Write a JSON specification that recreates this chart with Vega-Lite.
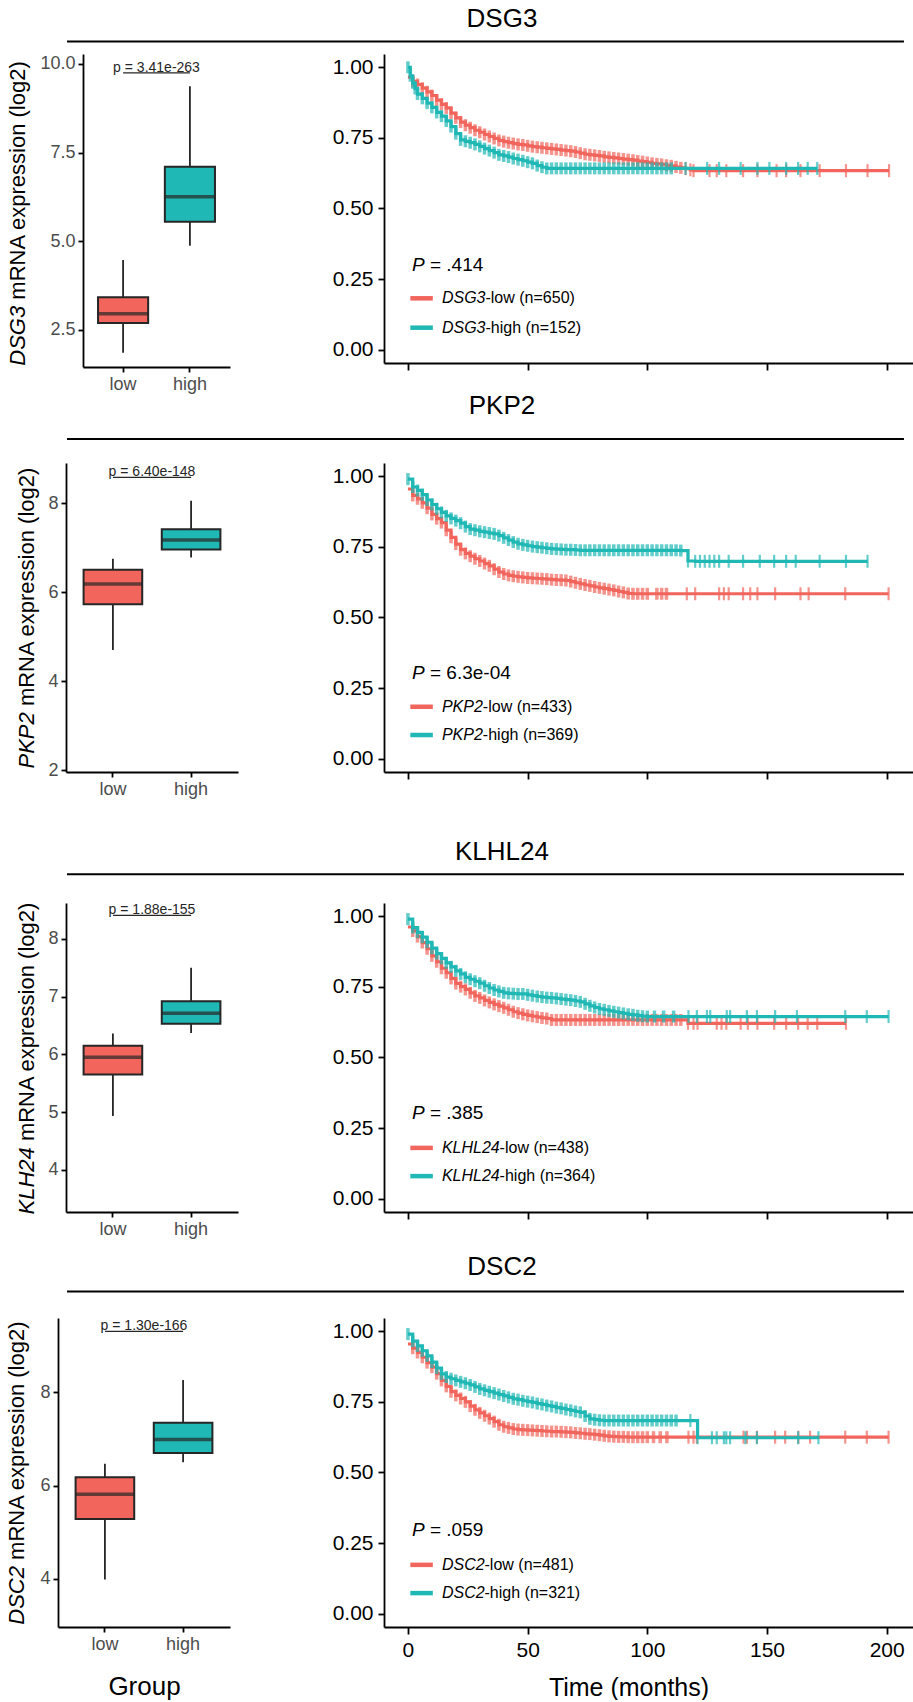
{
"$schema": "https://vega.github.io/schema/vega-lite/v6.json",
"padding": 0,
"background": "white",
"config": {
 "view": {"stroke": null},
 "font": "Liberation Sans",
 "axis": {"grid": false, "domainColor": "#000", "domainWidth": 1.8, "tickColor": "#000", "tickWidth": 1.8, "labelFont": "Liberation Sans", "titleFont": "Liberation Sans", "titleFontWeight": "normal", "labelColor": "#000", "titleColor": "#000", "labelFlush": false, "labelOverlap": false},
 "text": {"font": "Liberation Sans"}
},
"datasets": {
 "box": [
  {"k":"DSG3","g":"low","lo":1.85,"q1":2.69,"med":2.95,"q3":3.42,"hi":4.47},
  {"k":"DSG3","g":"high","lo":4.87,"q1":5.55,"med":6.25,"q3":7.1,"hi":9.37},
  {"k":"PKP2","g":"low","lo":4.7,"q1":5.73,"med":6.18,"q3":6.5,"hi":6.75},
  {"k":"PKP2","g":"high","lo":6.78,"q1":6.96,"med":7.17,"q3":7.41,"hi":8.05},
  {"k":"KLHL24","g":"low","lo":4.93,"q1":5.65,"med":5.95,"q3":6.15,"hi":6.36},
  {"k":"KLHL24","g":"high","lo":6.37,"q1":6.53,"med":6.71,"q3":6.92,"hi":7.5},
  {"k":"DSC2","g":"low","lo":3.98,"q1":5.28,"med":5.81,"q3":6.18,"hi":6.47},
  {"k":"DSC2","g":"high","lo":6.5,"q1":6.7,"med":6.99,"q3":7.35,"hi":8.27}
 ],
 "kmDSG3": [
  {"g":"low","t":0,"s":0.965,"c":0},{"g":"low","t":2,"s":0.95},{"g":"low","t":4,"s":0.939},{"g":"low","t":6,"s":0.926},{"g":"low","t":8,"s":0.913},{"g":"low","t":10,"s":0.9},{"g":"low","t":12,"s":0.884},{"g":"low","t":14,"s":0.869},{"g":"low","t":16,"s":0.856},{"g":"low","t":18,"s":0.838},{"g":"low","t":20,"s":0.821},{"g":"low","t":22,"s":0.806},{"g":"low","t":24,"s":0.795},{"g":"low","t":26,"s":0.786},{"g":"low","t":28,"s":0.777},{"g":"low","t":30,"s":0.77},{"g":"low","t":32,"s":0.762},{"g":"low","t":34,"s":0.755},{"g":"low","t":36,"s":0.748},{"g":"low","t":38,"s":0.741},{"g":"low","t":40,"s":0.737},{"g":"low","t":42,"s":0.733},{"g":"low","t":44,"s":0.73},{"g":"low","t":46,"s":0.727},{"g":"low","t":48,"s":0.725},{"g":"low","t":50,"s":0.722},{"g":"low","t":52,"s":0.719},{"g":"low","t":54,"s":0.717},{"g":"low","t":56,"s":0.715},{"g":"low","t":58,"s":0.713},{"g":"low","t":60,"s":0.711},{"g":"low","t":62,"s":0.709},{"g":"low","t":64,"s":0.707},{"g":"low","t":66,"s":0.705},{"g":"low","t":68,"s":0.703},{"g":"low","t":70,"s":0.7},{"g":"low","t":72,"s":0.696},{"g":"low","t":74,"s":0.692},{"g":"low","t":76,"s":0.69},{"g":"low","t":78,"s":0.688},{"g":"low","t":80,"s":0.686},{"g":"low","t":82,"s":0.683},{"g":"low","t":84,"s":0.681},{"g":"low","t":86,"s":0.679},{"g":"low","t":88,"s":0.677},{"g":"low","t":90,"s":0.675},{"g":"low","t":92,"s":0.673},{"g":"low","t":94,"s":0.671},{"g":"low","t":96,"s":0.668},{"g":"low","t":98,"s":0.666},{"g":"low","t":100,"s":0.663},{"g":"low","t":102,"s":0.66},{"g":"low","t":104,"s":0.658},{"g":"low","t":106,"s":0.656},{"g":"low","t":108,"s":0.653},{"g":"low","t":110,"s":0.651},{"g":"low","t":112,"s":0.647},{"g":"low","t":114,"s":0.644},{"g":"low","t":116,"s":0.641},{"g":"low","t":118,"s":0.637},{"g":"low","t":119.3,"s":0.634},{"g":"low","t":126,"s":0.634},{"g":"low","t":129,"s":0.634},{"g":"low","t":133,"s":0.634},{"g":"low","t":140,"s":0.634},{"g":"low","t":146,"s":0.634},{"g":"low","t":154,"s":0.634},{"g":"low","t":158,"s":0.634},{"g":"low","t":164,"s":0.634},{"g":"low","t":172,"s":0.634},{"g":"low","t":183,"s":0.634},{"g":"low","t":192,"s":0.634},{"g":"low","t":201,"s":0.634},
  {"g":"high","t":0,"s":1.0},{"g":"high","t":1,"s":0.97},{"g":"high","t":2,"s":0.945},{"g":"high","t":3,"s":0.925},{"g":"high","t":4,"s":0.905},{"g":"high","t":6,"s":0.89},{"g":"high","t":8,"s":0.873},{"g":"high","t":10,"s":0.858},{"g":"high","t":12,"s":0.84},{"g":"high","t":14,"s":0.827},{"g":"high","t":16,"s":0.81},{"g":"high","t":18,"s":0.79},{"g":"high","t":20,"s":0.765},{"g":"high","t":22,"s":0.743},{"g":"high","t":24,"s":0.738},{"g":"high","t":26,"s":0.733},{"g":"high","t":28,"s":0.727},{"g":"high","t":30,"s":0.72},{"g":"high","t":32,"s":0.712},{"g":"high","t":34,"s":0.705},{"g":"high","t":36,"s":0.698},{"g":"high","t":38,"s":0.69},{"g":"high","t":40,"s":0.686},{"g":"high","t":42,"s":0.682},{"g":"high","t":44,"s":0.677},{"g":"high","t":46,"s":0.673},{"g":"high","t":48,"s":0.669},{"g":"high","t":50,"s":0.664},{"g":"high","t":52,"s":0.66},{"g":"high","t":54,"s":0.652},{"g":"high","t":56,"s":0.646},{"g":"high","t":58,"s":0.642},{"g":"high","t":60,"s":0.642},{"g":"high","t":62,"s":0.642},{"g":"high","t":64,"s":0.642},{"g":"high","t":66,"s":0.642},{"g":"high","t":68,"s":0.642},{"g":"high","t":70,"s":0.642},{"g":"high","t":72,"s":0.642},{"g":"high","t":74,"s":0.642},{"g":"high","t":76,"s":0.642},{"g":"high","t":78,"s":0.642},{"g":"high","t":80,"s":0.642},{"g":"high","t":82,"s":0.642},{"g":"high","t":84,"s":0.642},{"g":"high","t":86,"s":0.642},{"g":"high","t":88,"s":0.642},{"g":"high","t":90,"s":0.642},{"g":"high","t":92,"s":0.642},{"g":"high","t":94,"s":0.642},{"g":"high","t":96,"s":0.642},{"g":"high","t":98,"s":0.642},{"g":"high","t":100,"s":0.642},{"g":"high","t":102,"s":0.642},{"g":"high","t":104,"s":0.642},{"g":"high","t":106,"s":0.642},{"g":"high","t":108,"s":0.642},{"g":"high","t":110,"s":0.642},{"g":"high","t":116,"s":0.642},{"g":"high","t":125,"s":0.642},{"g":"high","t":130,"s":0.642},{"g":"high","t":139,"s":0.642},{"g":"high","t":146,"s":0.642},{"g":"high","t":151,"s":0.642},{"g":"high","t":158,"s":0.642},{"g":"high","t":163,"s":0.642},{"g":"high","t":167,"s":0.642},{"g":"high","t":171,"s":0.642}
 ],
 "kmPKP2": [
  {"g":"low","t":0,"s":0.955,"c":0},{"g":"low","t":2,"s":0.932},{"g":"low","t":4,"s":0.92},{"g":"low","t":6,"s":0.906},{"g":"low","t":8,"s":0.887},{"g":"low","t":10,"s":0.865},{"g":"low","t":12,"s":0.85},{"g":"low","t":14,"s":0.836},{"g":"low","t":16,"s":0.809},{"g":"low","t":18,"s":0.784},{"g":"low","t":20,"s":0.76},{"g":"low","t":22,"s":0.74},{"g":"low","t":24,"s":0.727},{"g":"low","t":26,"s":0.717},{"g":"low","t":28,"s":0.708},{"g":"low","t":30,"s":0.7},{"g":"low","t":32,"s":0.691},{"g":"low","t":34,"s":0.683},{"g":"low","t":36,"s":0.671},{"g":"low","t":38,"s":0.661},{"g":"low","t":40,"s":0.654},{"g":"low","t":42,"s":0.649},{"g":"low","t":44,"s":0.646},{"g":"low","t":46,"s":0.644},{"g":"low","t":48,"s":0.642},{"g":"low","t":50,"s":0.64},{"g":"low","t":52,"s":0.639},{"g":"low","t":54,"s":0.638},{"g":"low","t":56,"s":0.637},{"g":"low","t":58,"s":0.636},{"g":"low","t":60,"s":0.634},{"g":"low","t":62,"s":0.633},{"g":"low","t":64,"s":0.632},{"g":"low","t":66,"s":0.631},{"g":"low","t":68,"s":0.627},{"g":"low","t":70,"s":0.623},{"g":"low","t":72,"s":0.619},{"g":"low","t":74,"s":0.615},{"g":"low","t":76,"s":0.612},{"g":"low","t":78,"s":0.608},{"g":"low","t":80,"s":0.605},{"g":"low","t":82,"s":0.602},{"g":"low","t":84,"s":0.599},{"g":"low","t":86,"s":0.596},{"g":"low","t":88,"s":0.592},{"g":"low","t":90,"s":0.589},{"g":"low","t":92,"s":0.585},{"g":"low","t":94,"s":0.584},{"g":"low","t":96,"s":0.584},{"g":"low","t":98,"s":0.584},{"g":"low","t":100,"s":0.584},{"g":"low","t":104,"s":0.584},{"g":"low","t":106,"s":0.584},{"g":"low","t":108,"s":0.584},{"g":"low","t":116.5,"s":0.584},{"g":"low","t":120,"s":0.584},{"g":"low","t":130,"s":0.584},{"g":"low","t":132,"s":0.584},{"g":"low","t":134,"s":0.584},{"g":"low","t":140,"s":0.584},{"g":"low","t":143,"s":0.584},{"g":"low","t":146,"s":0.584},{"g":"low","t":153.4,"s":0.584},{"g":"low","t":164,"s":0.584},{"g":"low","t":167.4,"s":0.584},{"g":"low","t":182.7,"s":0.584},{"g":"low","t":200.8,"s":0.584},
  {"g":"high","t":0,"s":0.99},{"g":"high","t":2,"s":0.962},{"g":"high","t":4,"s":0.95},{"g":"high","t":6,"s":0.935},{"g":"high","t":8,"s":0.916},{"g":"high","t":10,"s":0.9},{"g":"high","t":12,"s":0.885},{"g":"high","t":14,"s":0.872},{"g":"high","t":16,"s":0.86},{"g":"high","t":18,"s":0.851},{"g":"high","t":20,"s":0.843},{"g":"high","t":22,"s":0.834},{"g":"high","t":24,"s":0.822},{"g":"high","t":26,"s":0.813},{"g":"high","t":28,"s":0.809},{"g":"high","t":30,"s":0.805},{"g":"high","t":32,"s":0.802},{"g":"high","t":34,"s":0.799},{"g":"high","t":36,"s":0.796},{"g":"high","t":38,"s":0.79},{"g":"high","t":40,"s":0.782},{"g":"high","t":42,"s":0.774},{"g":"high","t":44,"s":0.767},{"g":"high","t":46,"s":0.761},{"g":"high","t":48,"s":0.757},{"g":"high","t":50,"s":0.754},{"g":"high","t":52,"s":0.751},{"g":"high","t":54,"s":0.749},{"g":"high","t":56,"s":0.747},{"g":"high","t":58,"s":0.745},{"g":"high","t":60,"s":0.743},{"g":"high","t":62,"s":0.742},{"g":"high","t":64,"s":0.741},{"g":"high","t":66,"s":0.74},{"g":"high","t":68,"s":0.74},{"g":"high","t":70,"s":0.739},{"g":"high","t":72,"s":0.738},{"g":"high","t":74,"s":0.738},{"g":"high","t":76,"s":0.738},{"g":"high","t":78,"s":0.738},{"g":"high","t":80,"s":0.738},{"g":"high","t":82,"s":0.738},{"g":"high","t":84,"s":0.738},{"g":"high","t":86,"s":0.738},{"g":"high","t":88,"s":0.738},{"g":"high","t":90,"s":0.738},{"g":"high","t":92,"s":0.738},{"g":"high","t":94,"s":0.738},{"g":"high","t":96,"s":0.738},{"g":"high","t":98,"s":0.738},{"g":"high","t":100,"s":0.738},{"g":"high","t":102,"s":0.738},{"g":"high","t":104,"s":0.738},{"g":"high","t":106,"s":0.738},{"g":"high","t":108,"s":0.738},{"g":"high","t":110,"s":0.738},{"g":"high","t":112,"s":0.738},{"g":"high","t":114,"s":0.737},{"g":"high","t":117,"s":0.7},{"g":"high","t":120,"s":0.699},{"g":"high","t":122,"s":0.699},{"g":"high","t":124,"s":0.699},{"g":"high","t":126,"s":0.699},{"g":"high","t":128,"s":0.699},{"g":"high","t":130,"s":0.699},{"g":"high","t":134,"s":0.699},{"g":"high","t":140,"s":0.699},{"g":"high","t":147,"s":0.699},{"g":"high","t":153,"s":0.699},{"g":"high","t":158,"s":0.699},{"g":"high","t":162,"s":0.699},{"g":"high","t":172,"s":0.699},{"g":"high","t":183,"s":0.699},{"g":"high","t":192,"s":0.699}
 ],
 "kmKLHL24": [
  {"g":"low","t":0,"s":0.962,"c":0},{"g":"low","t":2,"s":0.948},{"g":"low","t":4,"s":0.928},{"g":"low","t":6,"s":0.907},{"g":"low","t":8,"s":0.885},{"g":"low","t":10,"s":0.86},{"g":"low","t":12,"s":0.839},{"g":"low","t":14,"s":0.816},{"g":"low","t":16,"s":0.8},{"g":"low","t":18,"s":0.78},{"g":"low","t":20,"s":0.762},{"g":"low","t":22,"s":0.751},{"g":"low","t":24,"s":0.741},{"g":"low","t":26,"s":0.729},{"g":"low","t":28,"s":0.718},{"g":"low","t":30,"s":0.711},{"g":"low","t":32,"s":0.702},{"g":"low","t":34,"s":0.695},{"g":"low","t":36,"s":0.688},{"g":"low","t":38,"s":0.682},{"g":"low","t":40,"s":0.676},{"g":"low","t":42,"s":0.669},{"g":"low","t":44,"s":0.662},{"g":"low","t":46,"s":0.657},{"g":"low","t":48,"s":0.653},{"g":"low","t":50,"s":0.649},{"g":"low","t":52,"s":0.646},{"g":"low","t":54,"s":0.643},{"g":"low","t":56,"s":0.64},{"g":"low","t":58,"s":0.638},{"g":"low","t":60,"s":0.633},{"g":"low","t":62,"s":0.633},{"g":"low","t":64,"s":0.633},{"g":"low","t":66,"s":0.633},{"g":"low","t":68,"s":0.633},{"g":"low","t":70,"s":0.633},{"g":"low","t":72,"s":0.633},{"g":"low","t":74,"s":0.633},{"g":"low","t":76,"s":0.633},{"g":"low","t":78,"s":0.633},{"g":"low","t":80,"s":0.633},{"g":"low","t":82,"s":0.633},{"g":"low","t":84,"s":0.633},{"g":"low","t":86,"s":0.633},{"g":"low","t":88,"s":0.633},{"g":"low","t":90,"s":0.633},{"g":"low","t":92,"s":0.633},{"g":"low","t":94,"s":0.633},{"g":"low","t":96,"s":0.633},{"g":"low","t":98,"s":0.633},{"g":"low","t":100,"s":0.633},{"g":"low","t":102,"s":0.633},{"g":"low","t":104,"s":0.633},{"g":"low","t":106,"s":0.633},{"g":"low","t":108,"s":0.633},{"g":"low","t":110,"s":0.633},{"g":"low","t":112,"s":0.633},{"g":"low","t":114,"s":0.633},{"g":"low","t":117,"s":0.621},{"g":"low","t":119.3,"s":0.621},{"g":"low","t":121,"s":0.621},{"g":"low","t":129,"s":0.621},{"g":"low","t":131,"s":0.621},{"g":"low","t":133,"s":0.621},{"g":"low","t":139,"s":0.621},{"g":"low","t":142,"s":0.621},{"g":"low","t":146,"s":0.621},{"g":"low","t":153,"s":0.621},{"g":"low","t":158,"s":0.621},{"g":"low","t":163,"s":0.621},{"g":"low","t":167,"s":0.621},{"g":"low","t":171,"s":0.621},{"g":"low","t":183,"s":0.621},
  {"g":"high","t":0,"s":0.99},{"g":"high","t":2,"s":0.96},{"g":"high","t":4,"s":0.943},{"g":"high","t":6,"s":0.926},{"g":"high","t":8,"s":0.908},{"g":"high","t":10,"s":0.887},{"g":"high","t":12,"s":0.868},{"g":"high","t":14,"s":0.851},{"g":"high","t":16,"s":0.835},{"g":"high","t":18,"s":0.821},{"g":"high","t":20,"s":0.807},{"g":"high","t":22,"s":0.796},{"g":"high","t":24,"s":0.784},{"g":"high","t":26,"s":0.777},{"g":"high","t":28,"s":0.77},{"g":"high","t":30,"s":0.763},{"g":"high","t":32,"s":0.754},{"g":"high","t":34,"s":0.746},{"g":"high","t":36,"s":0.739},{"g":"high","t":38,"s":0.734},{"g":"high","t":40,"s":0.729},{"g":"high","t":42,"s":0.727},{"g":"high","t":44,"s":0.726},{"g":"high","t":46,"s":0.725},{"g":"high","t":48,"s":0.725},{"g":"high","t":50,"s":0.722},{"g":"high","t":52,"s":0.719},{"g":"high","t":54,"s":0.716},{"g":"high","t":56,"s":0.714},{"g":"high","t":58,"s":0.712},{"g":"high","t":60,"s":0.711},{"g":"high","t":62,"s":0.709},{"g":"high","t":64,"s":0.707},{"g":"high","t":66,"s":0.705},{"g":"high","t":68,"s":0.703},{"g":"high","t":70,"s":0.7},{"g":"high","t":72,"s":0.697},{"g":"high","t":74,"s":0.69},{"g":"high","t":76,"s":0.683},{"g":"high","t":78,"s":0.677},{"g":"high","t":80,"s":0.672},{"g":"high","t":82,"s":0.669},{"g":"high","t":84,"s":0.665},{"g":"high","t":86,"s":0.662},{"g":"high","t":88,"s":0.659},{"g":"high","t":90,"s":0.656},{"g":"high","t":92,"s":0.653},{"g":"high","t":94,"s":0.651},{"g":"high","t":96,"s":0.648},{"g":"high","t":98,"s":0.646},{"g":"high","t":100,"s":0.645},{"g":"high","t":103,"s":0.645},{"g":"high","t":106.8,"s":0.645},{"g":"high","t":111,"s":0.645},{"g":"high","t":117.2,"s":0.645},{"g":"high","t":120.7,"s":0.645},{"g":"high","t":124.9,"s":0.645},{"g":"high","t":126.3,"s":0.645},{"g":"high","t":133.2,"s":0.645},{"g":"high","t":134.6,"s":0.645},{"g":"high","t":141.6,"s":0.645},{"g":"high","t":145.8,"s":0.645},{"g":"high","t":153.4,"s":0.645},{"g":"high","t":162.5,"s":0.645},{"g":"high","t":182.7,"s":0.645},{"g":"high","t":191.7,"s":0.645},{"g":"high","t":200.8,"s":0.645}
 ],
 "kmDSC2": [
  {"g":"low","t":0,"s":0.955,"c":0},{"g":"low","t":2,"s":0.94},{"g":"low","t":4,"s":0.925},{"g":"low","t":6,"s":0.908},{"g":"low","t":8,"s":0.889},{"g":"low","t":10,"s":0.873},{"g":"low","t":12,"s":0.85},{"g":"low","t":14,"s":0.826},{"g":"low","t":16,"s":0.805},{"g":"low","t":18,"s":0.786},{"g":"low","t":20,"s":0.773},{"g":"low","t":22,"s":0.762},{"g":"low","t":24,"s":0.75},{"g":"low","t":26,"s":0.735},{"g":"low","t":28,"s":0.722},{"g":"low","t":30,"s":0.711},{"g":"low","t":32,"s":0.701},{"g":"low","t":34,"s":0.691},{"g":"low","t":36,"s":0.68},{"g":"low","t":38,"s":0.669},{"g":"low","t":40,"s":0.662},{"g":"low","t":42,"s":0.658},{"g":"low","t":44,"s":0.654},{"g":"low","t":46,"s":0.652},{"g":"low","t":48,"s":0.651},{"g":"low","t":50,"s":0.65},{"g":"low","t":52,"s":0.649},{"g":"low","t":54,"s":0.648},{"g":"low","t":56,"s":0.647},{"g":"low","t":58,"s":0.646},{"g":"low","t":60,"s":0.645},{"g":"low","t":62,"s":0.645},{"g":"low","t":64,"s":0.644},{"g":"low","t":66,"s":0.643},{"g":"low","t":68,"s":0.642},{"g":"low","t":70,"s":0.64},{"g":"low","t":72,"s":0.639},{"g":"low","t":74,"s":0.637},{"g":"low","t":76,"s":0.636},{"g":"low","t":78,"s":0.634},{"g":"low","t":80,"s":0.632},{"g":"low","t":82,"s":0.63},{"g":"low","t":84,"s":0.628},{"g":"low","t":86,"s":0.627},{"g":"low","t":88,"s":0.626},{"g":"low","t":90,"s":0.626},{"g":"low","t":92,"s":0.625},{"g":"low","t":94,"s":0.625},{"g":"low","t":96,"s":0.625},{"g":"low","t":98,"s":0.625},{"g":"low","t":100,"s":0.625},{"g":"low","t":102.6,"s":0.625},{"g":"low","t":105.4,"s":0.625},{"g":"low","t":108.2,"s":0.625},{"g":"low","t":117.2,"s":0.625},{"g":"low","t":119.3,"s":0.625},{"g":"low","t":120.7,"s":0.625},{"g":"low","t":140.2,"s":0.625},{"g":"low","t":141.6,"s":0.625},{"g":"low","t":145.8,"s":0.625},{"g":"low","t":153.4,"s":0.625},{"g":"low","t":157.6,"s":0.625},{"g":"low","t":163.1,"s":0.625},{"g":"low","t":168,"s":0.625},{"g":"low","t":182.7,"s":0.625},{"g":"low","t":191.7,"s":0.625},{"g":"low","t":200.8,"s":0.625},
  {"g":"high","t":0,"s":0.99},{"g":"high","t":2,"s":0.965},{"g":"high","t":4,"s":0.948},{"g":"high","t":6,"s":0.931},{"g":"high","t":8,"s":0.913},{"g":"high","t":10,"s":0.891},{"g":"high","t":12,"s":0.87},{"g":"high","t":14,"s":0.849},{"g":"high","t":16,"s":0.838},{"g":"high","t":18,"s":0.832},{"g":"high","t":20,"s":0.826},{"g":"high","t":22,"s":0.821},{"g":"high","t":24,"s":0.816},{"g":"high","t":26,"s":0.81},{"g":"high","t":28,"s":0.803},{"g":"high","t":30,"s":0.796},{"g":"high","t":32,"s":0.791},{"g":"high","t":34,"s":0.786},{"g":"high","t":36,"s":0.781},{"g":"high","t":38,"s":0.776},{"g":"high","t":40,"s":0.771},{"g":"high","t":42,"s":0.766},{"g":"high","t":44,"s":0.761},{"g":"high","t":46,"s":0.758},{"g":"high","t":48,"s":0.754},{"g":"high","t":50,"s":0.751},{"g":"high","t":52,"s":0.748},{"g":"high","t":54,"s":0.744},{"g":"high","t":56,"s":0.741},{"g":"high","t":58,"s":0.737},{"g":"high","t":60,"s":0.734},{"g":"high","t":62,"s":0.73},{"g":"high","t":64,"s":0.727},{"g":"high","t":66,"s":0.723},{"g":"high","t":68,"s":0.72},{"g":"high","t":70,"s":0.716},{"g":"high","t":72,"s":0.713},{"g":"high","t":74,"s":0.7},{"g":"high","t":76,"s":0.69},{"g":"high","t":78,"s":0.687},{"g":"high","t":80,"s":0.685},{"g":"high","t":82,"s":0.684},{"g":"high","t":84,"s":0.684},{"g":"high","t":86,"s":0.684},{"g":"high","t":88,"s":0.684},{"g":"high","t":90,"s":0.684},{"g":"high","t":92,"s":0.684},{"g":"high","t":94,"s":0.684},{"g":"high","t":96,"s":0.684},{"g":"high","t":98,"s":0.684},{"g":"high","t":100,"s":0.684},{"g":"high","t":102,"s":0.684},{"g":"high","t":104,"s":0.684},{"g":"high","t":106,"s":0.684},{"g":"high","t":108,"s":0.684},{"g":"high","t":110,"s":0.684},{"g":"high","t":112,"s":0.684},{"g":"high","t":118,"s":0.684},{"g":"high","t":121,"s":0.623},{"g":"high","t":127,"s":0.623},{"g":"high","t":129,"s":0.623},{"g":"high","t":132,"s":0.623},{"g":"high","t":133,"s":0.623},{"g":"high","t":134.6,"s":0.623},{"g":"high","t":141,"s":0.623},{"g":"high","t":145.8,"s":0.623},{"g":"high","t":163,"s":0.623},{"g":"high","t":171.5,"s":0.623}
 ]
},
"spacing": 0,
"vconcat": [
 {"width": 913, "height": 53.3, "data": {"values": [{}]},
  "layer": [
   {"mark": {"type": "rule", "strokeWidth": 2, "color": "#000"},
    "encoding": {"x": {"datum": 0.0734, "scale": {"domain": [0, 1]}, "axis": null}, "x2": {"datum": 0.9901}, "y": {"datum": 0.2214, "scale": {"domain": [0, 1]}, "axis": null}}},
   {"mark": {"type": "text", "text": "DSG3", "fontSize": 26, "align": "center", "baseline": "alphabetic", "color": "#000"},
    "encoding": {"x": {"datum": 0.5498, "axis": null}, "y": {"datum": 0.4991, "axis": null}}}
  ]},
 {"hconcat": [
   {"width": 83, "height": 309, "data": {"values": [{}]},
    "layer": [
     {"mark": {"type": "text", "text": "DSG3", "angle": 270, "align": "left", "baseline": "alphabetic", "fontSize": 22, "fontStyle": "italic", "color": "#000"},
      "encoding": {"x": {"datum": 0.296, "scale": {"domain": [0, 1]}, "axis": null}, "y": {"datum": -0.0087, "scale": {"domain": [0, 1]}, "axis": null}}},
     {"mark": {"type": "text", "text": "mRNA expression (log2)", "angle": 270, "align": "left", "baseline": "alphabetic", "fontSize": 22, "color": "#000"},
      "encoding": {"x": {"datum": 0.296, "axis": null}, "y": {"datum": 0.2049, "axis": null}}}
    ]},
   {"width": 147, "height": 313,
    "data": {"name": "box"}, "transform": [{"filter": "datum.k === 'DSG3'"}],
    "layer": [
     {"mark": {"type": "rule", "color": "#262626", "strokeWidth": 1.8},
      "encoding": {
       "x": {"field": "g", "type": "nominal", "scale": {"domain": ["low", "high"], "paddingInner": 0.25, "paddingOuter": 0.225}, "axis": {"title": null, "labelFontSize": 18, "labelColor": "#4D4D4D", "tickSize": 5, "labelPadding": 3, "labelAngle": 0}},
       "y": {"field": "lo", "type": "quantitative", "scale": {"domain": [1.45, 10.28], "nice": false, "zero": false}, "axis": {"title": null, "values": [2.5, 5, 7.5, 10], "format": ".1f", "labelFontSize": 18, "labelColor": "#4D4D4D", "tickSize": 5, "labelPadding": 3}},
       "y2": {"field": "hi"}}},
     {"mark": {"type": "bar", "stroke": "#262626", "strokeWidth": 2},
      "encoding": {"x": {"field": "g", "type": "nominal"}, "y": {"field": "q1", "type": "quantitative"}, "y2": {"field": "q3"},
       "color": {"field": "g", "type": "nominal", "scale": {"domain": ["low", "high"], "range": ["#F1655C", "#1FB8B5"]}, "legend": null}}},
     {"mark": {"type": "tick", "orient": "horizontal", "size": 50, "thickness": 3.5, "color": "#262626"},
      "encoding": {"x": {"field": "g", "type": "nominal"}, "y": {"field": "med", "type": "quantitative"}}},
     {"mark": {"type": "line", "color": "#262626", "strokeWidth": 1.2},
      "encoding": {"x": {"field": "g", "type": "nominal"}, "y": {"datum": 9.746}}},
     {"transform": [{"filter": "datum.g === 'high'"}],
      "mark": {"type": "text", "text": "p = 3.41e-263", "fontSize": 14, "align": "center", "baseline": "alphabetic", "color": "#262626"},
      "encoding": {"x": {"field": "g", "type": "nominal", "bandPosition": -0.1667}, "y": {"datum": 9.786}}}
    ]},
   {"width": 154, "height": 339, "data": {"values": []}, "mark": "point"},
   {"width": 529, "height": 309, "data": {"name": "kmDSG3"},
    "layer": [
     {"transform": [{"filter": "datum.g === 'low'"}],
      "mark": {"type": "line", "interpolate": "step-after", "strokeWidth": 3.2, "color": "#F1655C"},
      "encoding": {
       "x": {"field": "t", "type": "quantitative", "scale": {"domain": [-10, 211], "nice": false, "zero": false}, "axis": {"title": null, "values": [0, 50, 100, 150, 200], "labels": false, "tickSize": 7}},
       "y": {"field": "s", "type": "quantitative", "scale": {"domain": [-0.047, 1.047], "nice": false, "zero": false}, "axis": {"title": null, "values": [0, 0.25, 0.5, 0.75, 1], "format": ".2f", "labelFontSize": 21, "tickSize": 6, "labelPadding": 5}}}},
     {"transform": [{"filter": "datum.g === 'low' && datum.c !== 0 && datum.t <= 115"}],
      "mark": {"type": "tick", "orient": "vertical", "size": 12, "thickness": 3.5, "color": "#F1655C"},
      "encoding": {"x": {"field": "t", "type": "quantitative"}, "y": {"field": "s", "type": "quantitative"}}},
     {"transform": [{"filter": "datum.g === 'low' && datum.t > 115"}],
      "mark": {"type": "tick", "orient": "vertical", "size": 13, "thickness": 2.2, "color": "#F1655C"},
      "encoding": {"x": {"field": "t", "type": "quantitative"}, "y": {"field": "s", "type": "quantitative"}}},
     {"transform": [{"filter": "datum.g === 'high'"}],
      "mark": {"type": "line", "interpolate": "step-after", "strokeWidth": 3.2, "color": "#1FB8B5"},
      "encoding": {"x": {"field": "t", "type": "quantitative"}, "y": {"field": "s", "type": "quantitative"}}},
     {"transform": [{"filter": "datum.g === 'high' && datum.c !== 0 && datum.t <= 115"}],
      "mark": {"type": "tick", "orient": "vertical", "size": 12, "thickness": 3.5, "color": "#1FB8B5"},
      "encoding": {"x": {"field": "t", "type": "quantitative"}, "y": {"field": "s", "type": "quantitative"}}},
     {"transform": [{"filter": "datum.g === 'high' && datum.t > 115"}],
      "mark": {"type": "tick", "orient": "vertical", "size": 13, "thickness": 2.2, "color": "#1FB8B5"},
      "encoding": {"x": {"field": "t", "type": "quantitative"}, "y": {"field": "s", "type": "quantitative"}}},
     {"data": {"values": [{}]}, "mark": {"type": "text", "text": "P", "fontStyle": "italic", "fontSize": 19, "align": "left", "baseline": "middle", "color": "#000"},
      "encoding": {"x": {"datum": 1.7}, "y": {"datum": 0.3}}},
     {"data": {"values": [{}]}, "mark": {"type": "text", "text": "= .414", "fontSize": 19, "align": "left", "baseline": "middle", "color": "#000"},
      "encoding": {"x": {"datum": 9.2}, "y": {"datum": 0.3}}},
     {"data": {"values": [{}]}, "mark": {"type": "rule", "strokeWidth": 4.5, "color": "#F1655C"},
      "encoding": {"x": {"datum": 1}, "x2": {"datum": 10.4}, "y": {"datum": 0.182}}},
     {"data": {"values": [{}]}, "mark": {"type": "rule", "strokeWidth": 4.5, "color": "#1FB8B5"},
      "encoding": {"x": {"datum": 1}, "x2": {"datum": 10.4}, "y": {"datum": 0.078}}},
     {"data": {"values": [{}]}, "mark": {"type": "text", "text": "DSG3", "fontStyle": "italic", "fontSize": 16, "align": "left", "baseline": "middle", "color": "#000"},
      "encoding": {"x": {"datum": 14.2}, "y": {"datum": 0.182}}},
     {"data": {"values": [{}]}, "mark": {"type": "text", "text": "-low (n=650)", "fontSize": 16, "align": "left", "baseline": "middle", "color": "#000"},
      "encoding": {"x": {"datum": 32.4}, "y": {"datum": 0.182}}},
     {"data": {"values": [{}]}, "mark": {"type": "text", "text": "DSG3", "fontStyle": "italic", "fontSize": 16, "align": "left", "baseline": "middle", "color": "#000"},
      "encoding": {"x": {"datum": 14.2}, "y": {"datum": 0.078}}},
     {"data": {"values": [{}]}, "mark": {"type": "text", "text": "-high (n=152)", "fontSize": 16, "align": "left", "baseline": "middle", "color": "#000"},
      "encoding": {"x": {"datum": 32.4}, "y": {"datum": 0.078}}}
    ]}
  ], "spacing": 0, "bounds": "flush"},

 {"width": 913, "height": 69.7, "data": {"values": [{}]},
  "layer": [
   {"mark": {"type": "rule", "strokeWidth": 2, "color": "#000"},
    "encoding": {"x": {"datum": 0.0734, "scale": {"domain": [0, 1]}, "axis": null}, "x2": {"datum": 0.9901}, "y": {"datum": 0.34, "scale": {"domain": [0, 1]}, "axis": null}}},
   {"mark": {"type": "text", "text": "PKP2", "fontSize": 26, "align": "center", "baseline": "alphabetic", "color": "#000"},
    "encoding": {"x": {"datum": 0.5498, "axis": null}, "y": {"datum": 0.6944, "axis": null}}}
  ]},
 {"hconcat": [
   {"width": 66, "height": 309, "data": {"values": [{}]},
    "layer": [
     {"mark": {"type": "text", "text": "PKP2", "angle": 270, "align": "left", "baseline": "alphabetic", "fontSize": 22, "fontStyle": "italic", "color": "#000"},
      "encoding": {"x": {"datum": 0.511, "scale": {"domain": [0, 1]}, "axis": null}, "y": {"datum": 0.0113, "scale": {"domain": [0, 1]}, "axis": null}}},
     {"mark": {"type": "text", "text": "mRNA expression (log2)", "angle": 270, "align": "left", "baseline": "alphabetic", "fontSize": 22, "color": "#000"},
      "encoding": {"x": {"datum": 0.511, "axis": null}, "y": {"datum": 0.2132, "axis": null}}}
    ]},
   {"width": 172, "height": 309,
    "data": {"name": "box"}, "transform": [{"filter": "datum.k === 'PKP2'"}],
    "layer": [
     {"mark": {"type": "rule", "color": "#262626", "strokeWidth": 1.8},
      "encoding": {
       "x": {"field": "g", "type": "nominal", "scale": {"domain": ["low", "high"], "paddingInner": 0.25, "paddingOuter": 0.225}, "axis": {"title": null, "labelFontSize": 18, "labelColor": "#4D4D4D", "tickSize": 5, "labelPadding": 3, "labelAngle": 0}},
       "y": {"field": "lo", "type": "quantitative", "scale": {"domain": [1.96, 8.9], "nice": false, "zero": false}, "axis": {"title": null, "values": [2, 4, 6, 8], "format": "d", "labelFontSize": 18, "labelColor": "#4D4D4D", "tickSize": 5, "labelPadding": 3}},
       "y2": {"field": "hi"}}},
     {"mark": {"type": "bar", "stroke": "#262626", "strokeWidth": 2},
      "encoding": {"x": {"field": "g", "type": "nominal"}, "y": {"field": "q1", "type": "quantitative"}, "y2": {"field": "q3"},
       "color": {"field": "g", "type": "nominal", "scale": {"domain": ["low", "high"], "range": ["#F1655C", "#1FB8B5"]}, "legend": null}}},
     {"mark": {"type": "tick", "orient": "horizontal", "size": 58.6, "thickness": 3.5, "color": "#262626"},
      "encoding": {"x": {"field": "g", "type": "nominal"}, "y": {"field": "med", "type": "quantitative"}}},
     {"mark": {"type": "line", "color": "#262626", "strokeWidth": 1.2},
      "encoding": {"x": {"field": "g", "type": "nominal"}, "y": {"datum": 8.576}}},
     {"transform": [{"filter": "datum.g === 'high'"}],
      "mark": {"type": "text", "text": "p = 6.40e-148", "fontSize": 14, "align": "center", "baseline": "alphabetic", "color": "#262626"},
      "encoding": {"x": {"field": "g", "type": "nominal", "bandPosition": -0.1667}, "y": {"datum": 8.612}}}
    ]},
   {"width": 146, "height": 375, "data": {"values": []}, "mark": "point"},
   {"width": 529, "height": 309, "data": {"name": "kmPKP2"},
    "layer": [
     {"transform": [{"filter": "datum.g === 'low'"}],
      "mark": {"type": "line", "interpolate": "step-after", "strokeWidth": 3.2, "color": "#F1655C"},
      "encoding": {
       "x": {"field": "t", "type": "quantitative", "scale": {"domain": [-10, 211], "nice": false, "zero": false}, "axis": {"title": null, "values": [0, 50, 100, 150, 200], "labels": false, "tickSize": 7}},
       "y": {"field": "s", "type": "quantitative", "scale": {"domain": [-0.047, 1.047], "nice": false, "zero": false}, "axis": {"title": null, "values": [0, 0.25, 0.5, 0.75, 1], "format": ".2f", "labelFontSize": 21, "tickSize": 6, "labelPadding": 5}}}},
     {"transform": [{"filter": "datum.g === 'low' && datum.c !== 0 && datum.t <= 115"}],
      "mark": {"type": "tick", "orient": "vertical", "size": 12, "thickness": 3.5, "color": "#F1655C"},
      "encoding": {"x": {"field": "t", "type": "quantitative"}, "y": {"field": "s", "type": "quantitative"}}},
     {"transform": [{"filter": "datum.g === 'low' && datum.t > 115"}],
      "mark": {"type": "tick", "orient": "vertical", "size": 13, "thickness": 2.2, "color": "#F1655C"},
      "encoding": {"x": {"field": "t", "type": "quantitative"}, "y": {"field": "s", "type": "quantitative"}}},
     {"transform": [{"filter": "datum.g === 'high'"}],
      "mark": {"type": "line", "interpolate": "step-after", "strokeWidth": 3.2, "color": "#1FB8B5"},
      "encoding": {"x": {"field": "t", "type": "quantitative"}, "y": {"field": "s", "type": "quantitative"}}},
     {"transform": [{"filter": "datum.g === 'high' && datum.c !== 0 && datum.t <= 115"}],
      "mark": {"type": "tick", "orient": "vertical", "size": 12, "thickness": 3.5, "color": "#1FB8B5"},
      "encoding": {"x": {"field": "t", "type": "quantitative"}, "y": {"field": "s", "type": "quantitative"}}},
     {"transform": [{"filter": "datum.g === 'high' && datum.t > 115"}],
      "mark": {"type": "tick", "orient": "vertical", "size": 13, "thickness": 2.2, "color": "#1FB8B5"},
      "encoding": {"x": {"field": "t", "type": "quantitative"}, "y": {"field": "s", "type": "quantitative"}}},
     {"data": {"values": [{}]}, "mark": {"type": "text", "text": "P", "fontStyle": "italic", "fontSize": 19, "align": "left", "baseline": "middle", "color": "#000"},
      "encoding": {"x": {"datum": 1.7}, "y": {"datum": 0.304}}},
     {"data": {"values": [{}]}, "mark": {"type": "text", "text": "= 6.3e-04", "fontSize": 19, "align": "left", "baseline": "middle", "color": "#000"},
      "encoding": {"x": {"datum": 9.2}, "y": {"datum": 0.304}}},
     {"data": {"values": [{}]}, "mark": {"type": "rule", "strokeWidth": 4.5, "color": "#F1655C"},
      "encoding": {"x": {"datum": 1}, "x2": {"datum": 10.4}, "y": {"datum": 0.184}}},
     {"data": {"values": [{}]}, "mark": {"type": "rule", "strokeWidth": 4.5, "color": "#1FB8B5"},
      "encoding": {"x": {"datum": 1}, "x2": {"datum": 10.4}, "y": {"datum": 0.084}}},
     {"data": {"values": [{}]}, "mark": {"type": "text", "text": "PKP2", "fontStyle": "italic", "fontSize": 16, "align": "left", "baseline": "middle", "color": "#000"},
      "encoding": {"x": {"datum": 14.2}, "y": {"datum": 0.184}}},
     {"data": {"values": [{}]}, "mark": {"type": "text", "text": "-low (n=433)", "fontSize": 16, "align": "left", "baseline": "middle", "color": "#000"},
      "encoding": {"x": {"datum": 31.3}, "y": {"datum": 0.184}}},
     {"data": {"values": [{}]}, "mark": {"type": "text", "text": "PKP2", "fontStyle": "italic", "fontSize": 16, "align": "left", "baseline": "middle", "color": "#000"},
      "encoding": {"x": {"datum": 14.2}, "y": {"datum": 0.084}}},
     {"data": {"values": [{}]}, "mark": {"type": "text", "text": "-high (n=369)", "fontSize": 16, "align": "left", "baseline": "middle", "color": "#000"},
      "encoding": {"x": {"datum": 31.3}, "y": {"datum": 0.084}}}
    ]}
  ], "spacing": 0, "bounds": "flush"},

 {"width": 913, "height": 62.5, "data": {"values": [{}]},
  "layer": [
   {"mark": {"type": "rule", "strokeWidth": 2, "color": "#000"},
    "encoding": {"x": {"datum": 0.0734, "scale": {"domain": [0, 1]}, "axis": null}, "x2": {"datum": 0.9901}, "y": {"datum": 0.4192, "scale": {"domain": [0, 1]}, "axis": null}}},
   {"mark": {"type": "text", "text": "KLHL24", "fontSize": 26, "align": "center", "baseline": "alphabetic", "color": "#000"},
    "encoding": {"x": {"datum": 0.5498, "axis": null}, "y": {"datum": 0.6528, "axis": null}}}
  ]},
 {"hconcat": [
   {"width": 66, "height": 309, "data": {"values": [{}]},
    "layer": [
     {"mark": {"type": "text", "text": "KLH24", "angle": 270, "align": "left", "baseline": "alphabetic", "fontSize": 22, "fontStyle": "italic", "color": "#000"},
      "encoding": {"x": {"datum": 0.511, "scale": {"domain": [0, 1]}, "axis": null}, "y": {"datum": -0.0081, "scale": {"domain": [0, 1]}, "axis": null}}},
     {"mark": {"type": "text", "text": "mRNA expression (log2)", "angle": 270, "align": "left", "baseline": "alphabetic", "fontSize": 22, "color": "#000"},
      "encoding": {"x": {"datum": 0.511, "axis": null}, "y": {"datum": 0.2294, "axis": null}}}
    ]},
   {"width": 172, "height": 309,
    "data": {"name": "box"}, "transform": [{"filter": "datum.k === 'KLHL24'"}],
    "layer": [
     {"mark": {"type": "rule", "color": "#262626", "strokeWidth": 1.8},
      "encoding": {
       "x": {"field": "g", "type": "nominal", "scale": {"domain": ["low", "high"], "paddingInner": 0.25, "paddingOuter": 0.225}, "axis": {"title": null, "labelFontSize": 18, "labelColor": "#4D4D4D", "tickSize": 5, "labelPadding": 3, "labelAngle": 0}},
       "y": {"field": "lo", "type": "quantitative", "scale": {"domain": [3.27, 8.62], "nice": false, "zero": false}, "axis": {"title": null, "values": [4, 5, 6, 7, 8], "format": "d", "labelFontSize": 18, "labelColor": "#4D4D4D", "tickSize": 5, "labelPadding": 3}},
       "y2": {"field": "hi"}}},
     {"mark": {"type": "bar", "stroke": "#262626", "strokeWidth": 2},
      "encoding": {"x": {"field": "g", "type": "nominal"}, "y": {"field": "q1", "type": "quantitative"}, "y2": {"field": "q3"},
       "color": {"field": "g", "type": "nominal", "scale": {"domain": ["low", "high"], "range": ["#F1655C", "#1FB8B5"]}, "legend": null}}},
     {"mark": {"type": "tick", "orient": "horizontal", "size": 58.6, "thickness": 3.5, "color": "#262626"},
      "encoding": {"x": {"field": "g", "type": "nominal"}, "y": {"field": "med", "type": "quantitative"}}},
     {"mark": {"type": "line", "color": "#262626", "strokeWidth": 1.2},
      "encoding": {"x": {"field": "g", "type": "nominal"}, "y": {"datum": 8.407}}},
     {"transform": [{"filter": "datum.g === 'high'"}],
      "mark": {"type": "text", "text": "p = 1.88e-155", "fontSize": 14, "align": "center", "baseline": "alphabetic", "color": "#262626"},
      "encoding": {"x": {"field": "g", "type": "nominal", "bandPosition": -0.1667}, "y": {"datum": 8.435}}}
    ]},
   {"width": 146, "height": 350, "data": {"values": []}, "mark": "point"},
   {"width": 529, "height": 309, "data": {"name": "kmKLHL24"},
    "layer": [
     {"transform": [{"filter": "datum.g === 'low'"}],
      "mark": {"type": "line", "interpolate": "step-after", "strokeWidth": 3.2, "color": "#F1655C"},
      "encoding": {
       "x": {"field": "t", "type": "quantitative", "scale": {"domain": [-10, 211], "nice": false, "zero": false}, "axis": {"title": null, "values": [0, 50, 100, 150, 200], "labels": false, "tickSize": 7}},
       "y": {"field": "s", "type": "quantitative", "scale": {"domain": [-0.047, 1.047], "nice": false, "zero": false}, "axis": {"title": null, "values": [0, 0.25, 0.5, 0.75, 1], "format": ".2f", "labelFontSize": 21, "tickSize": 6, "labelPadding": 5}}}},
     {"transform": [{"filter": "datum.g === 'low' && datum.c !== 0 && datum.t <= 115"}],
      "mark": {"type": "tick", "orient": "vertical", "size": 12, "thickness": 3.5, "color": "#F1655C"},
      "encoding": {"x": {"field": "t", "type": "quantitative"}, "y": {"field": "s", "type": "quantitative"}}},
     {"transform": [{"filter": "datum.g === 'low' && datum.t > 115"}],
      "mark": {"type": "tick", "orient": "vertical", "size": 13, "thickness": 2.2, "color": "#F1655C"},
      "encoding": {"x": {"field": "t", "type": "quantitative"}, "y": {"field": "s", "type": "quantitative"}}},
     {"transform": [{"filter": "datum.g === 'high'"}],
      "mark": {"type": "line", "interpolate": "step-after", "strokeWidth": 3.2, "color": "#1FB8B5"},
      "encoding": {"x": {"field": "t", "type": "quantitative"}, "y": {"field": "s", "type": "quantitative"}}},
     {"transform": [{"filter": "datum.g === 'high' && datum.c !== 0 && datum.t <= 115"}],
      "mark": {"type": "tick", "orient": "vertical", "size": 12, "thickness": 3.5, "color": "#1FB8B5"},
      "encoding": {"x": {"field": "t", "type": "quantitative"}, "y": {"field": "s", "type": "quantitative"}}},
     {"transform": [{"filter": "datum.g === 'high' && datum.t > 115"}],
      "mark": {"type": "tick", "orient": "vertical", "size": 13, "thickness": 2.2, "color": "#1FB8B5"},
      "encoding": {"x": {"field": "t", "type": "quantitative"}, "y": {"field": "s", "type": "quantitative"}}},
     {"data": {"values": [{}]}, "mark": {"type": "text", "text": "P", "fontStyle": "italic", "fontSize": 19, "align": "left", "baseline": "middle", "color": "#000"},
      "encoding": {"x": {"datum": 1.7}, "y": {"datum": 0.304}}},
     {"data": {"values": [{}]}, "mark": {"type": "text", "text": "= .385", "fontSize": 19, "align": "left", "baseline": "middle", "color": "#000"},
      "encoding": {"x": {"datum": 9.2}, "y": {"datum": 0.304}}},
     {"data": {"values": [{}]}, "mark": {"type": "rule", "strokeWidth": 4.5, "color": "#F1655C"},
      "encoding": {"x": {"datum": 1}, "x2": {"datum": 10.4}, "y": {"datum": 0.18}}},
     {"data": {"values": [{}]}, "mark": {"type": "rule", "strokeWidth": 4.5, "color": "#1FB8B5"},
      "encoding": {"x": {"datum": 1}, "x2": {"datum": 10.4}, "y": {"datum": 0.08}}},
     {"data": {"values": [{}]}, "mark": {"type": "text", "text": "KLHL24", "fontStyle": "italic", "fontSize": 16, "align": "left", "baseline": "middle", "color": "#000"},
      "encoding": {"x": {"datum": 14.2}, "y": {"datum": 0.18}}},
     {"data": {"values": [{}]}, "mark": {"type": "text", "text": "-low (n=438)", "fontSize": 16, "align": "left", "baseline": "middle", "color": "#000"},
      "encoding": {"x": {"datum": 38.3}, "y": {"datum": 0.18}}},
     {"data": {"values": [{}]}, "mark": {"type": "text", "text": "KLHL24", "fontStyle": "italic", "fontSize": 16, "align": "left", "baseline": "middle", "color": "#000"},
      "encoding": {"x": {"datum": 14.2}, "y": {"datum": 0.08}}},
     {"data": {"values": [{}]}, "mark": {"type": "text", "text": "-high (n=364)", "fontSize": 16, "align": "left", "baseline": "middle", "color": "#000"},
      "encoding": {"x": {"datum": 38.3}, "y": {"datum": 0.08}}}
    ]}
  ], "spacing": 0, "bounds": "flush"},

 {"width": 913, "height": 64, "data": {"values": [{}]},
  "layer": [
   {"mark": {"type": "rule", "strokeWidth": 2, "color": "#000"},
    "encoding": {"x": {"datum": 0.0734, "scale": {"domain": [0, 1]}, "axis": null}, "x2": {"datum": 0.9901}, "y": {"datum": 0.4125, "scale": {"domain": [0, 1]}, "axis": null}}},
   {"mark": {"type": "text", "text": "DSC2", "fontSize": 26, "align": "center", "baseline": "alphabetic", "color": "#000"},
    "encoding": {"x": {"datum": 0.5498, "axis": null}, "y": {"datum": 0.6719, "axis": null}}}
  ]},
 {"hconcat": [
   {"width": 58, "height": 309, "data": {"values": [{}]},
    "layer": [
     {"mark": {"type": "text", "text": "DSC2", "angle": 270, "align": "left", "baseline": "alphabetic", "fontSize": 22, "fontStyle": "italic", "color": "#000"},
      "encoding": {"x": {"datum": 0.417, "scale": {"domain": [0, 1]}, "axis": null}, "y": {"datum": 0.0074, "scale": {"domain": [0, 1]}, "axis": null}}},
     {"mark": {"type": "text", "text": "mRNA expression (log2)", "angle": 270, "align": "left", "baseline": "alphabetic", "fontSize": 22, "color": "#000"},
      "encoding": {"x": {"datum": 0.417, "axis": null}, "y": {"datum": 0.2171, "axis": null}}}
    ]},
   {"width": 172, "height": 309,
    "data": {"name": "box"}, "transform": [{"filter": "datum.k === 'DSC2'"}],
    "layer": [
     {"mark": {"type": "rule", "color": "#262626", "strokeWidth": 1.8},
      "encoding": {
       "x": {"field": "g", "type": "nominal", "scale": {"domain": ["low", "high"], "paddingInner": 0.25, "paddingOuter": 0.225}, "axis": {"title": "Group", "titleFontSize": 26, "titlePadding": 20, "labelFontSize": 18, "labelColor": "#4D4D4D", "tickSize": 5, "labelPadding": 3, "labelAngle": 0}},
       "y": {"field": "lo", "type": "quantitative", "scale": {"domain": [2.96, 9.6], "nice": false, "zero": false}, "axis": {"title": null, "values": [4, 6, 8], "format": "d", "labelFontSize": 18, "labelColor": "#4D4D4D", "tickSize": 5, "labelPadding": 3}},
       "y2": {"field": "hi"}}},
     {"mark": {"type": "bar", "stroke": "#262626", "strokeWidth": 2},
      "encoding": {"x": {"field": "g", "type": "nominal"}, "y": {"field": "q1", "type": "quantitative"}, "y2": {"field": "q3"},
       "color": {"field": "g", "type": "nominal", "scale": {"domain": ["low", "high"], "range": ["#F1655C", "#1FB8B5"]}, "legend": null}}},
     {"mark": {"type": "tick", "orient": "horizontal", "size": 58.6, "thickness": 3.5, "color": "#262626"},
      "encoding": {"x": {"field": "g", "type": "nominal"}, "y": {"field": "med", "type": "quantitative"}}},
     {"mark": {"type": "line", "color": "#262626", "strokeWidth": 1.2},
      "encoding": {"x": {"field": "g", "type": "nominal"}, "y": {"datum": 9.314}}},
     {"transform": [{"filter": "datum.g === 'high'"}],
      "mark": {"type": "text", "text": "p = 1.30e-166", "fontSize": 14, "align": "center", "baseline": "alphabetic", "color": "#262626"},
      "encoding": {"x": {"field": "g", "type": "nominal", "bandPosition": -0.1667}, "y": {"datum": 9.348}}}
    ]},
   {"width": 154, "height": 309, "data": {"values": []}, "mark": "point"},
   {"width": 529, "height": 309, "data": {"name": "kmDSC2"},
    "layer": [
     {"transform": [{"filter": "datum.g === 'low'"}],
      "mark": {"type": "line", "interpolate": "step-after", "strokeWidth": 3.2, "color": "#F1655C"},
      "encoding": {
       "x": {"field": "t", "type": "quantitative", "scale": {"domain": [-10, 211], "nice": false, "zero": false}, "axis": {"title": "Time (months)", "titleFontSize": 25, "titlePadding": 15, "titleX": 244.5, "values": [0, 50, 100, 150, 200], "labelFontSize": 21, "labelPadding": 5, "tickSize": 7}},
       "y": {"field": "s", "type": "quantitative", "scale": {"domain": [-0.047, 1.047], "nice": false, "zero": false}, "axis": {"title": null, "values": [0, 0.25, 0.5, 0.75, 1], "format": ".2f", "labelFontSize": 21, "tickSize": 6, "labelPadding": 5}}}},
     {"transform": [{"filter": "datum.g === 'low' && datum.c !== 0 && datum.t <= 115"}],
      "mark": {"type": "tick", "orient": "vertical", "size": 12, "thickness": 3.5, "color": "#F1655C"},
      "encoding": {"x": {"field": "t", "type": "quantitative"}, "y": {"field": "s", "type": "quantitative"}}},
     {"transform": [{"filter": "datum.g === 'low' && datum.t > 115"}],
      "mark": {"type": "tick", "orient": "vertical", "size": 13, "thickness": 2.2, "color": "#F1655C"},
      "encoding": {"x": {"field": "t", "type": "quantitative"}, "y": {"field": "s", "type": "quantitative"}}},
     {"transform": [{"filter": "datum.g === 'high'"}],
      "mark": {"type": "line", "interpolate": "step-after", "strokeWidth": 3.2, "color": "#1FB8B5"},
      "encoding": {"x": {"field": "t", "type": "quantitative"}, "y": {"field": "s", "type": "quantitative"}}},
     {"transform": [{"filter": "datum.g === 'high' && datum.c !== 0 && datum.t <= 115"}],
      "mark": {"type": "tick", "orient": "vertical", "size": 12, "thickness": 3.5, "color": "#1FB8B5"},
      "encoding": {"x": {"field": "t", "type": "quantitative"}, "y": {"field": "s", "type": "quantitative"}}},
     {"transform": [{"filter": "datum.g === 'high' && datum.t > 115"}],
      "mark": {"type": "tick", "orient": "vertical", "size": 13, "thickness": 2.2, "color": "#1FB8B5"},
      "encoding": {"x": {"field": "t", "type": "quantitative"}, "y": {"field": "s", "type": "quantitative"}}},
     {"data": {"values": [{}]}, "mark": {"type": "text", "text": "P", "fontStyle": "italic", "fontSize": 19, "align": "left", "baseline": "middle", "color": "#000"},
      "encoding": {"x": {"datum": 1.7}, "y": {"datum": 0.295}}},
     {"data": {"values": [{}]}, "mark": {"type": "text", "text": "= .059", "fontSize": 19, "align": "left", "baseline": "middle", "color": "#000"},
      "encoding": {"x": {"datum": 9.2}, "y": {"datum": 0.295}}},
     {"data": {"values": [{}]}, "mark": {"type": "rule", "strokeWidth": 4.5, "color": "#F1655C"},
      "encoding": {"x": {"datum": 1}, "x2": {"datum": 10.4}, "y": {"datum": 0.173}}},
     {"data": {"values": [{}]}, "mark": {"type": "rule", "strokeWidth": 4.5, "color": "#1FB8B5"},
      "encoding": {"x": {"datum": 1}, "x2": {"datum": 10.4}, "y": {"datum": 0.073}}},
     {"data": {"values": [{}]}, "mark": {"type": "text", "text": "DSC2", "fontStyle": "italic", "fontSize": 16, "align": "left", "baseline": "middle", "color": "#000"},
      "encoding": {"x": {"datum": 14.2}, "y": {"datum": 0.173}}},
     {"data": {"values": [{}]}, "mark": {"type": "text", "text": "-low (n=481)", "fontSize": 16, "align": "left", "baseline": "middle", "color": "#000"},
      "encoding": {"x": {"datum": 32.0}, "y": {"datum": 0.173}}},
     {"data": {"values": [{}]}, "mark": {"type": "text", "text": "DSC2", "fontStyle": "italic", "fontSize": 16, "align": "left", "baseline": "middle", "color": "#000"},
      "encoding": {"x": {"datum": 14.2}, "y": {"datum": 0.073}}},
     {"data": {"values": [{}]}, "mark": {"type": "text", "text": "-high (n=321)", "fontSize": 16, "align": "left", "baseline": "middle", "color": "#000"},
      "encoding": {"x": {"datum": 32.0}, "y": {"datum": 0.073}}}
    ]}
  ], "spacing": 0, "bounds": "flush"}
]
}
